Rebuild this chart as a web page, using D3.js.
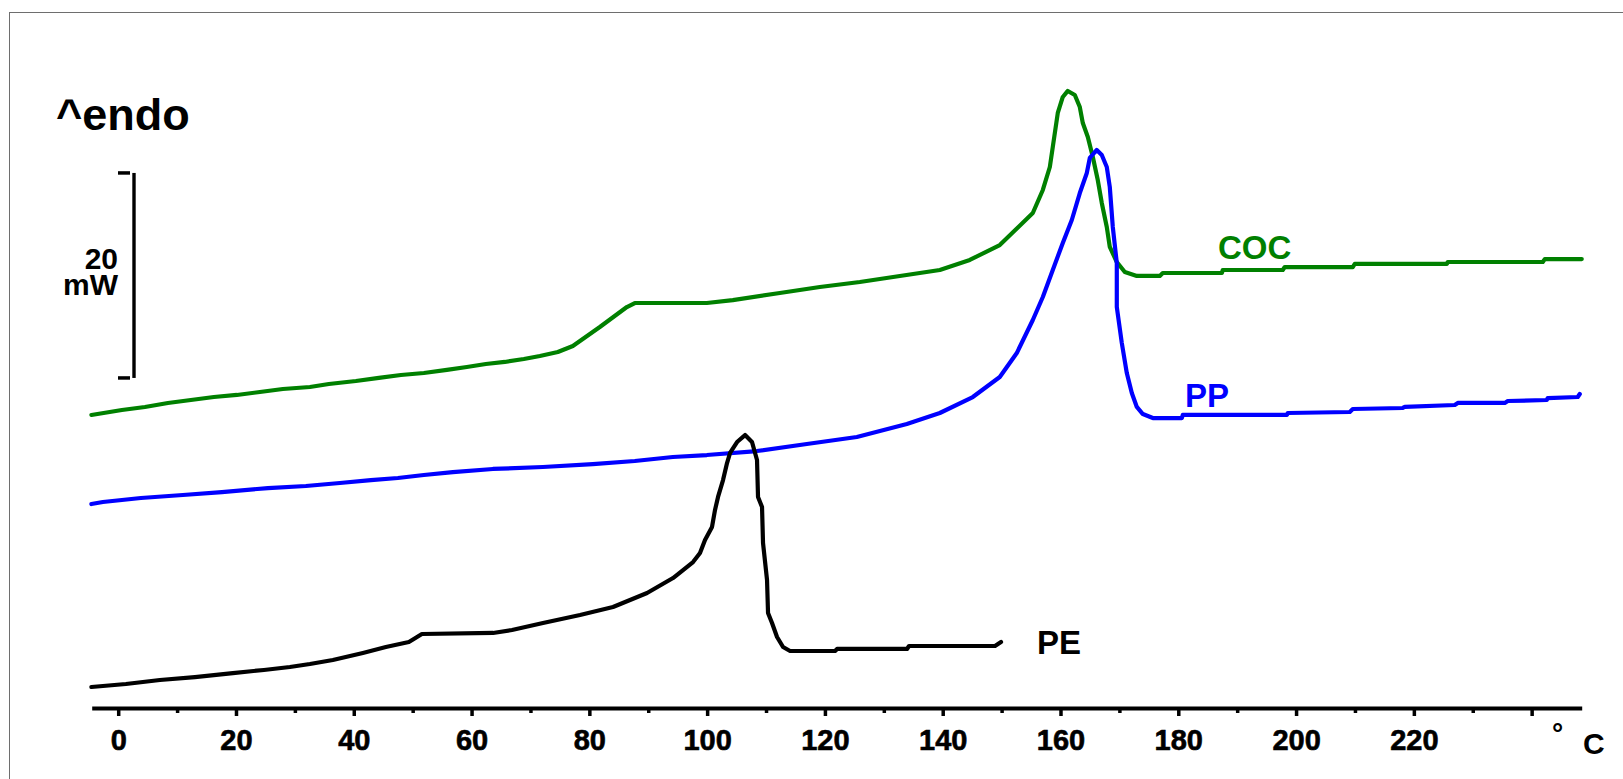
<!DOCTYPE html>
<html>
<head>
<meta charset="utf-8">
<script src="https://cdn.jsdelivr.net/npm/d3@7"></script>
<style>
  html, body { margin: 0; padding: 0; background: #fff; }
  svg { display: block; }
  text { font-family: Arial, "Liberation Sans", Helvetica, sans-serif; font-weight: bold; }
</style>
</head>
<body>
<svg id="chart" width="1623" height="779"></svg>
<script>
// ---- Data (temperature in °C, heat flow in mW, arbitrary offsets) ----
const peT = [-4.55, 1.31, 7.08, 13.02, 19.47, 24.74, 29.15, 32.55, 36.45, 41.55, 45.45, 49.36, 51.57, 63.65, 66.87, 72.13, 78.42, 84.02, 89.80, 94.21, 97.61, 98.79, 99.64, 100.83, 101.34, 101.85, 102.70, 103.38, 103.89, 105.08, 106.44, 107.62, 108.47, 108.64, 109.32, 109.49, 110.17, 110.34, 111.02, 111.87, 112.89, 114.08, 121.72, 122.06, 133.94, 134.28, 148.88, 149.90];
const peMW = [2.05, 2.34, 2.73, 3.02, 3.41, 3.71, 4.00, 4.29, 4.68, 5.37, 5.95, 6.44, 7.22, 7.32, 7.61, 8.29, 9.07, 9.85, 11.22, 12.68, 14.24, 15.12, 16.39, 17.66, 19.32, 20.59, 22.24, 23.90, 24.88, 25.95, 26.63, 25.95, 24.20, 20.59, 19.61, 16.10, 12.49, 9.27, 8.29, 6.93, 5.95, 5.56, 5.56, 5.76, 5.76, 6.05, 6.05, 6.44];

const ppT = [-4.55, -2.60, 3.85, 10.98, 17.61, 25.42, 31.87, 37.64, 42.90, 47.49, 51.90, 56.82, 63.62, 72.11, 80.59, 87.72, 94.17, 99.95, 108.44, 116.93, 125.42, 133.91, 139.51, 145.11, 149.69, 152.58, 155.30, 157.00, 158.69, 160.39, 161.92, 163.28, 164.47, 164.98, 166.16, 167.01, 167.86, 168.37, 168.88, 169.56, 169.56, 170.41, 171.26, 172.11, 172.96, 173.98, 175.68, 180.60, 180.77, 198.43, 198.60, 209.12, 209.63, 218.12, 218.46, 226.95, 227.46, 235.44, 235.95, 242.57, 242.74, 247.83, 248.17];
const ppMW = [19.90, 20.10, 20.49, 20.78, 21.07, 21.46, 21.66, 21.95, 22.24, 22.44, 22.73, 23.02, 23.32, 23.51, 23.80, 24.10, 24.49, 24.68, 25.07, 25.76, 26.44, 27.71, 28.78, 30.34, 32.29, 34.63, 37.85, 40.10, 42.73, 45.37, 47.61, 50.24, 52.20, 53.66, 54.44, 53.95, 52.78, 50.83, 46.93, 43.41, 39.12, 35.61, 32.68, 30.73, 29.37, 28.68, 28.29, 28.29, 28.59, 28.59, 28.78, 28.88, 29.17, 29.27, 29.37, 29.56, 29.76, 29.76, 29.95, 30.05, 30.24, 30.34, 30.63];

const cocT = [-4.55, 0.63, 4.54, 8.44, 12.34, 16.25, 20.15, 24.06, 27.96, 32.55, 35.77, 40.36, 44.26, 48.00, 51.90, 55.81, 59.20, 62.43, 65.65, 68.88, 71.60, 74.65, 77.20, 81.78, 86.37, 87.72, 99.95, 104.36, 112.34, 119.14, 125.93, 132.72, 139.51, 144.60, 149.69, 155.30, 157.00, 158.19, 158.69, 159.54, 160.39, 161.24, 162.43, 163.28, 163.79, 164.64, 165.49, 166.33, 167.01, 167.86, 168.37, 169.56, 170.92, 172.96, 176.86, 177.37, 187.39, 187.56, 197.74, 198.08, 209.63, 209.97, 225.59, 225.76, 241.89, 242.23, 248.51];
const cocMW = [28.59, 29.07, 29.37, 29.76, 30.05, 30.34, 30.54, 30.83, 31.12, 31.32, 31.61, 31.90, 32.20, 32.49, 32.68, 32.98, 33.27, 33.56, 33.76, 34.05, 34.34, 34.73, 35.32, 37.17, 39.12, 39.51, 39.51, 39.80, 40.49, 41.07, 41.56, 42.15, 42.73, 43.71, 45.17, 48.29, 50.54, 52.78, 54.73, 58.05, 59.61, 60.20, 59.80, 58.63, 57.07, 55.71, 53.76, 51.51, 49.27, 46.93, 44.98, 43.51, 42.54, 42.15, 42.15, 42.44, 42.44, 42.73, 42.73, 43.02, 43.02, 43.32, 43.32, 43.51, 43.51, 43.80, 43.80];

const seriesNames = ["COC", "PP", "PE"];
const seriesColors = ["#008000", "#0000ff", "#000000"];
const majorTicks = [0, 20, 40, 60, 80, 100, 120, 140, 160, 180, 200, 220, 240];
const minorTicks = [10, 30, 50, 70, 90, 110, 130, 150, 170, 190, 210, 230];
const tickLabels = ["0", "20", "40", "60", "80", "100", "120", "140", "160", "180", "200", "220", ""];
const scaleBarMW = [32.2, 52.2];   // 20 mW scale bar
const unitLabel = ["°", "C"];

// ---- Chart ----
const svg = d3.select("#chart");

// frame
svg.append("rect").attr("x", 9.5).attr("y", 12.5).attr("width", 1700).attr("height", 800)
  .attr("fill", "none").attr("stroke", "#6e6e6e").attr("stroke-width", 1);

const x = d3.scaleLinear().domain([-4.5, 248.5]).range([91.7, 1581.7]);
const y = d3.scaleLinear().domain([0, 20]).range([708, 503]);

// axis
const axisY = 708;
const major = d3.axisBottom(x).tickValues(majorTicks).tickSize(8).tickSizeOuter(0).tickPadding(13)
  .tickFormat((d, i) => tickLabels[i]);
const gMajor = svg.append("g").attr("transform", `translate(0,${axisY})`).call(major);
gMajor.select(".domain").attr("stroke", "#000").attr("stroke-width", 4);
gMajor.selectAll(".tick line").attr("stroke", "#000").attr("stroke-width", 3.5);
gMajor.selectAll(".tick text").attr("fill", "#000").style("font-size", "29px")
  .style("font-family", "Arial, 'Liberation Sans', sans-serif").style("font-weight", "bold")
  .attr("stroke", "#000").attr("stroke-width", 0.6);

const minor = d3.axisBottom(x).tickValues(minorTicks).tickSize(5).tickFormat("");
const gMinor = svg.append("g").attr("transform", `translate(0,${axisY})`).call(minor);
gMinor.select(".domain").remove();
gMinor.selectAll(".tick line").attr("stroke", "#000").attr("stroke-width", 3.5);

// unit label
svg.append("text").attr("x", 1557.5).attr("y", 743).attr("text-anchor", "middle")
  .style("font-size", "28px").text(unitLabel[0]);
svg.append("text").attr("x", 1583).attr("y", 754).style("font-size", "30px").text(unitLabel[1]);

// curves
const line = d3.line().x(d => x(d[0])).y(d => y(d[1]));
const series = [
  d3.zip(cocT, cocMW),
  d3.zip(ppT, ppMW),
  d3.zip(peT, peMW)
];
series.forEach((s, i) => {
  svg.append("path").datum(s).attr("d", line)
    .attr("fill", "none").attr("stroke", seriesColors[i]).attr("stroke-width", 4.2)
    .attr("stroke-linejoin", "round").attr("stroke-linecap", "round");
});

// series labels
const labelPos = [[1218, 259], [1185, 407], [1037, 654]];
seriesNames.forEach((n, i) => {
  svg.append("text").attr("x", labelPos[i][0]).attr("y", labelPos[i][1])
    .attr("fill", seriesColors[i]).style("font-size", "33px").text(n);
});

// ^endo
svg.append("text").attr("x", 56).attr("y", 130).style("font-size", "45px").text("^endo");

// scale bar
const barX = 134;
svg.append("line").attr("x1", barX).attr("x2", barX)
  .attr("y1", y(scaleBarMW[0])).attr("y2", y(scaleBarMW[1]))
  .attr("stroke", "#000").attr("stroke-width", 3.4);
scaleBarMW.forEach(v => {
  svg.append("line").attr("x1", 118).attr("x2", 130)
    .attr("y1", y(v)).attr("y2", y(v)).attr("stroke", "#000").attr("stroke-width", 3.5);
});
const barText = svg.append("text").attr("text-anchor", "end").style("font-size", "30px");
barText.append("tspan").attr("x", 118).attr("y", 269).text("20");
barText.append("tspan").attr("x", 118).attr("y", 295).text("mW");
</script>
</body>
</html>
